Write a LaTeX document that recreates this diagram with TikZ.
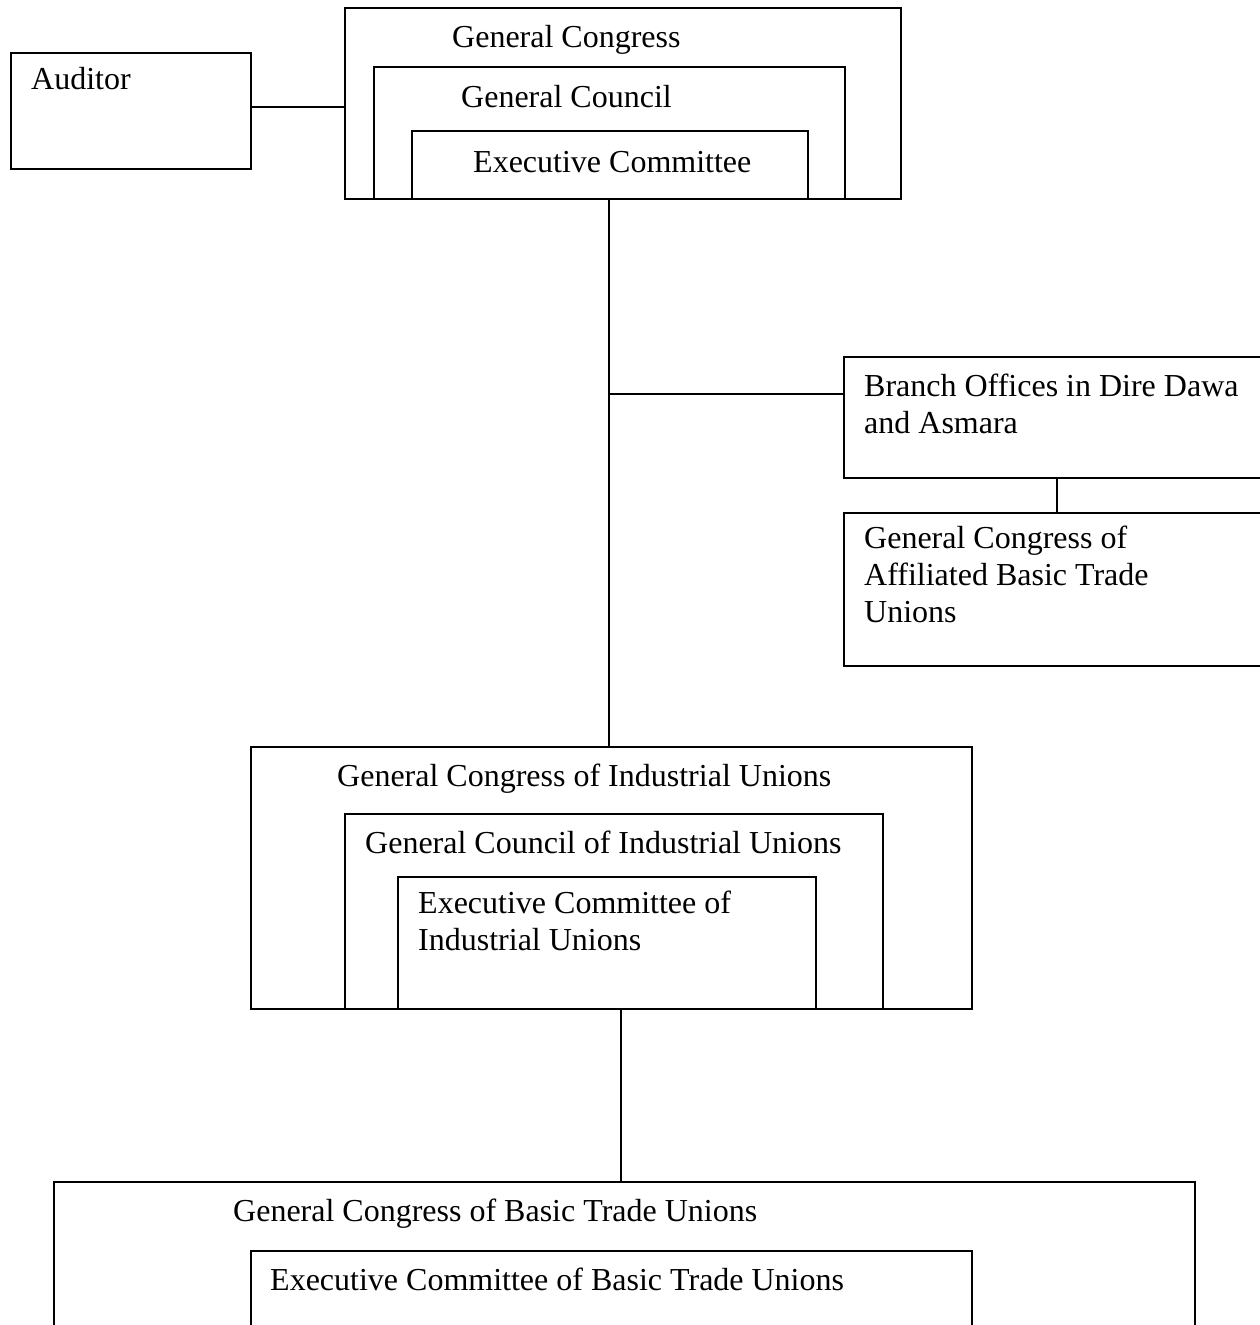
\documentclass[tikz,border=0pt]{standalone}
\usepackage{fontspec}
\setmainfont{Liberation Serif}
\begin{document}
\begin{tikzpicture}[x=1pt, y=-1pt,
  box/.style={draw, line width=1.8pt, inner sep=0pt, anchor=north west},
  label/.style={anchor=base west, inner sep=0pt, align=left,
                font=\fontsize{32}{37}\selectfont},
  link/.style={draw, line width=1.8pt}]
\useasboundingbox (0,0) rectangle (1260,1325);
\clip (0,0) rectangle (1260,1325);

% auditor
\node[box, minimum width=240pt, minimum height=116pt] (auditor) at (10,52) {};
% top level: congress, council, executive committee
\node[box, minimum width=556pt, minimum height=191pt] (gc) at (344,7) {};
\node[box, minimum width=471pt, minimum height=132pt] (gcl) at (373,66) {};
\node[box, minimum width=396pt, minimum height=68pt] (ec) at (411,130) {};
% branch offices and affiliated unions (open to the right edge)
\node[box, minimum width=432pt, minimum height=121pt] (branch) at (843,356) {};
\node[box, minimum width=432pt, minimum height=153pt] (affil) at (843,512) {};
% industrial unions
\node[box, minimum width=721pt, minimum height=262pt] (gci) at (250,746) {};
\node[box, minimum width=538pt, minimum height=195pt] (gcli) at (344,813) {};
\node[box, minimum width=418pt, minimum height=132pt] (eci) at (397,876) {};
% basic trade unions (continue below the lower edge)
\node[box, minimum width=1141pt, minimum height=170pt] (gcb) at (53,1181) {};
\node[box, minimum width=721pt, minimum height=100pt] (ecb) at (250,1250) {};

% labels (multi-line labels sit on the baseline of their last line)
\node[label] (tAud) at (31,89) {Auditor};
\node[label] (tGC) at (452,47) {General Congress};
\node[label] (tGCl) at (461,107) {General Council};
\node[label] (tEC) at (473,172) {Executive Committee};
\node[label] (tBr) at (864,433) {Branch Offices in Dire Dawa\\and Asmara};
\node[label] (tAf) at (864,622) {General Congress of\\Affiliated Basic Trade\\Unions};
\node[label] (tGCI) at (337,786) {General Congress of Industrial Unions};
\node[label] (tGClI) at (365,853) {General Council of Industrial Unions};
\node[label] (tECI) at (418,950) {Executive Committee of\\Industrial Unions};
\node[label] (tGCB) at (233,1221) {General Congress of Basic Trade Unions};
\node[label] (tECB) at (270,1290) {Executive Committee of Basic Trade Unions};

% connectors
\draw[link] ([yshift=4pt]auditor.east) -- ([yshift=4pt]auditor.east -| gc.west);
\draw[link] ([xshift=-1pt]ec.south) -- ([xshift=-1pt]ec.south |- gci.north);
\draw[link] ([yshift=23.5pt]branch.west) -- ([yshift=23.5pt]branch.west -| ec.south);
\draw[link] ([xshift=-3pt]branch.south) -- ([xshift=-3pt]affil.north);
\draw[link] ([xshift=-3.5pt]gcb.north) -- ([xshift=-3.5pt]gcb.north |- gci.south);
\end{tikzpicture}
\end{document}
